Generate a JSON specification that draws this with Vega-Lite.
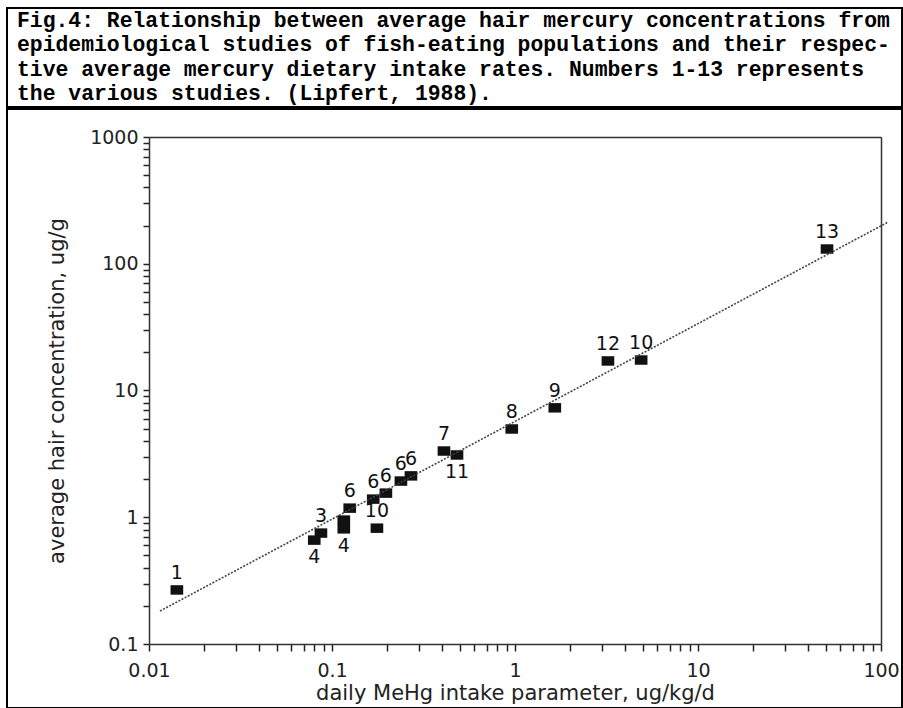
{
  "$schema": "https://vega.github.io/schema/vega-lite/v6.json",
  "background": "white",
  "padding": {"left": 6, "top": 7, "right": 0, "bottom": 0},
  "spacing": 0,
  "datasets": {
    "caption": [
      {"line": 1, "text": "Fig.4: Relationship between average hair mercury concentrations from"},
      {"line": 2, "text": "epidemiological studies of fish-eating populations and their respec-"},
      {"line": 3, "text": "tive average mercury dietary intake rates. Numbers 1-13 represents"},
      {"line": 4, "text": "the various studies. (Lipfert, 1988)."}
    ],
    "points": [
      {"label": "1", "x": 0.0142, "y": 0.267, "pos": "above"},
      {"label": "3", "x": 0.087, "y": 0.75, "pos": "above"},
      {"label": "4", "x": 0.080, "y": 0.66, "pos": "below"},
      {"label": "", "x": 0.116, "y": 0.95, "pos": "none"},
      {"label": "4", "x": 0.116, "y": 0.81, "pos": "below"},
      {"label": "6", "x": 0.125, "y": 1.18, "pos": "above"},
      {"label": "10", "x": 0.176, "y": 0.82, "pos": "above"},
      {"label": "6", "x": 0.168, "y": 1.39, "pos": "above"},
      {"label": "6", "x": 0.197, "y": 1.55, "pos": "above"},
      {"label": "6", "x": 0.238, "y": 1.93, "pos": "above"},
      {"label": "6", "x": 0.270, "y": 2.12, "pos": "above"},
      {"label": "7", "x": 0.409, "y": 3.33, "pos": "above"},
      {"label": "11", "x": 0.482, "y": 3.1, "pos": "below"},
      {"label": "8", "x": 0.96, "y": 4.97, "pos": "above"},
      {"label": "9", "x": 1.65, "y": 7.3, "pos": "above"},
      {"label": "12", "x": 3.22, "y": 17.1, "pos": "above"},
      {"label": "10", "x": 4.89, "y": 17.4, "pos": "above"},
      {"label": "13", "x": 50.7, "y": 130.7, "pos": "above"}
    ],
    "fit": [
      {"x": 0.01148, "y": 0.182},
      {"x": 109.2, "y": 213}
    ]
  },
  "vconcat": [
    {
      "width": 895,
      "height": 99,
      "data": {"name": "caption"},
      "mark": {"type": "text", "align": "left", "baseline": "middle", "font": "Liberation Mono", "fontWeight": "bold", "fontSize": 21.4, "color": "#000"},
      "encoding": {
        "y": {"field": "line", "type": "ordinal", "axis": null, "scale": {"type": "point", "padding": 0.55}},
        "x": {"value": 10},
        "text": {"field": "text"}
      }
    },
    {
      "width": 895,
      "height": 599,
      "layer": [
        {
          "data": {"name": "points"},
          "encoding": {
            "x": {
              "field": "x", "type": "quantitative",
              "scale": {"type": "log", "domain": [0.01, 100], "range": [142, 874], "nice": false},
              "axis": {
                "orient": "bottom", "offset": -64,
                "title": "daily MeHg intake parameter, ug/kg/d",
                "values": [0.01,0.02,0.03,0.04,0.05,0.06,0.07,0.08,0.09,0.1,0.2,0.3,0.4,0.5,0.6,0.7,0.8,0.9,1,2,3,4,5,6,7,8,9,10,20,30,40,50,60,70,80,90,100],
                "labelExpr": "indexof([0.01,0.1,1,10,100], datum.value) >= 0 ? '' + datum.value : ''",
                "labelOverlap": false, "labelFlush": false, "labelBound": false,
                "grid": false, "ticks": true, "tickSize": 7, "tickColor": "#222", "tickWidth": 1.5, "tickOpacity": 1, "zindex": 2,
                "domain": true, "domainColor": "#333", "domainWidth": 1.5,
                "labelFont": "DejaVu Sans", "labelFontSize": 19, "labelColor": "#222", "labelPadding": 10,
                "titleFont": "DejaVu Sans", "titleFontSize": 21, "titleFontWeight": "normal", "titleColor": "#222", "titlePadding": 2
              }
            },
            "y": {
              "field": "y", "type": "quantitative",
              "scale": {"type": "log", "domain": [0.1, 1000], "range": [535, 28], "nice": false},
              "axis": {
                "orient": "left", "offset": -142,
                "title": "average hair concentration, ug/g",
                "values": [0.1,0.2,0.3,0.4,0.5,0.6,0.7,0.8,0.9,1,2,3,4,5,6,7,8,9,10,20,30,40,50,60,70,80,90,100,200,300,400,500,600,700,800,900,1000],
                "labelExpr": "indexof([0.1,1,10,100,1000], datum.value) >= 0 ? '' + datum.value : ''",
                "labelOverlap": false, "labelFlush": false, "labelBound": false,
                "grid": false, "ticks": true, "tickSize": 6, "tickColor": "#222", "tickWidth": 1.5, "tickOpacity": 1, "zindex": 2,
                "domain": true, "domainColor": "#333", "domainWidth": 1.5,
                "labelFont": "DejaVu Sans", "labelFontSize": 19, "labelColor": "#222", "labelPadding": 5,
                "titleFont": "DejaVu Sans", "titleFontSize": 21, "titleFontWeight": "normal", "titleColor": "#222", "titlePadding": 22
              }
            }
          },
          "layer": [
            {
              "mark": {"type": "point", "shape": "M-1,-0.75H1V0.75H-1Z", "filled": true, "size": 160, "color": "#111", "opacity": 1}
            },
            {
              "transform": [{"filter": "datum.pos == 'above'"}],
              "mark": {"type": "text", "dy": -17, "font": "DejaVu Sans", "fontSize": 19, "color": "#111"},
              "encoding": {"text": {"field": "label"}}
            },
            {
              "transform": [{"filter": "datum.pos == 'below'"}],
              "mark": {"type": "text", "dy": 17, "font": "DejaVu Sans", "fontSize": 19, "color": "#111"},
              "encoding": {"text": {"field": "label"}}
            }
          ]
        },
        {
          "data": {"name": "fit"},
          "mark": {"type": "line", "color": "#444", "strokeWidth": 1.6, "strokeDash": [2, 1.5], "clip": false},
          "encoding": {
            "x": {
              "field": "x", "type": "quantitative",
              "scale": {"type": "log", "domain": [0.01, 100], "range": [142, 874], "nice": false},
              "axis": {"orient": "top", "offset": -28, "title": null, "labels": false, "ticks": false, "grid": false, "domainColor": "#333", "domainWidth": 1.5}
            },
            "y": {
              "field": "y", "type": "quantitative",
              "scale": {"type": "log", "domain": [0.1, 1000], "range": [535, 28], "nice": false},
              "axis": {"orient": "right", "offset": -21, "title": null, "labels": false, "ticks": false, "grid": false, "domainColor": "#333", "domainWidth": 1.5}
            }
          }
        }
      ],
      "resolve": {"axis": {"x": "independent", "y": "independent"}}
    }
  ],
  "config": {
    "view": {"stroke": "#000", "strokeWidth": 2},
    "axis": {"ticks": true}
  }
}
